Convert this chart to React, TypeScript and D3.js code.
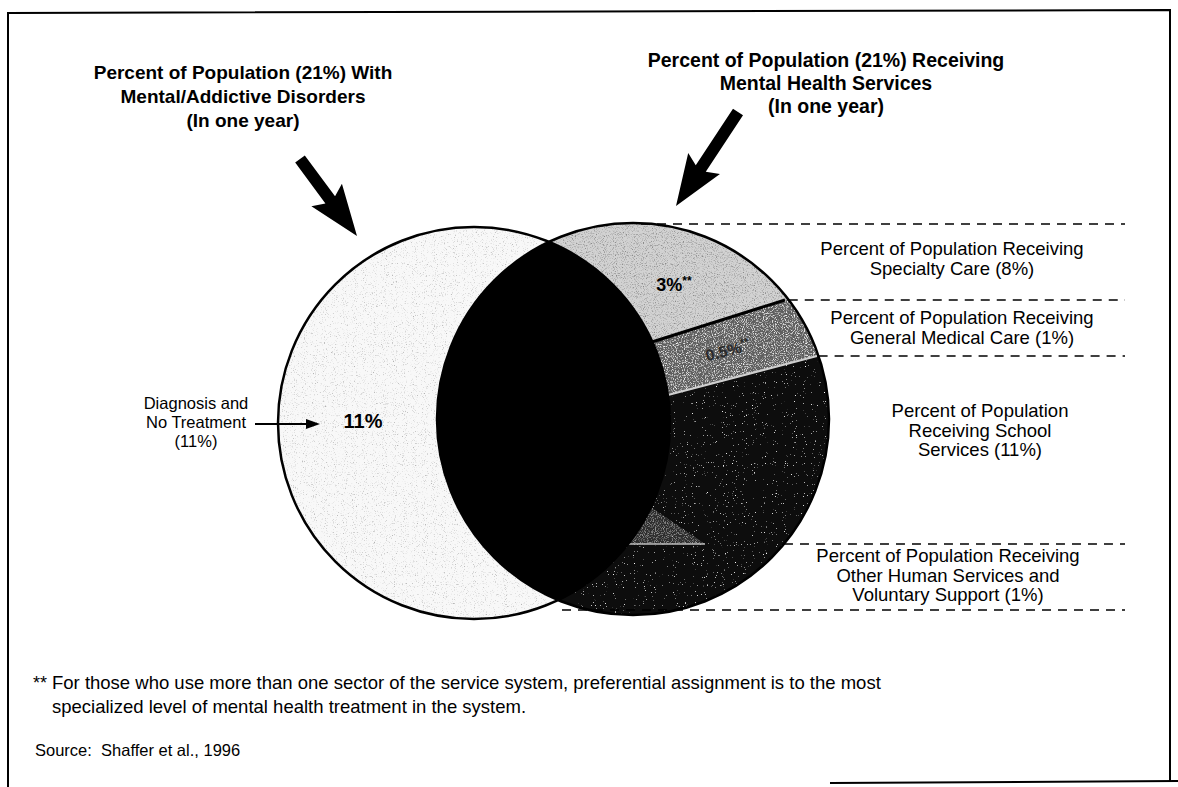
import React from "react";
import * as d3 from "d3";

// ---------- data ----------
const leftTitle = ["Percent of Population (21%) With", "Mental/Addictive Disorders", "(In one year)"];
const rightTitle = ["Percent of Population (21%) Receiving", "Mental Health Services", "(In one year)"];
const populationWithDisorders = 21;
const populationReceivingServices = 21;
const noTreatmentLabel = ["Diagnosis and", "No Treatment", "(11%)"];
const noTreatmentValue = "11%";
const sectorNames = ["Specialty Care", "General Medical Care", "School Services", "Other Human Services and Voluntary Support"];
const sectorPercents = [8, 1, 11, 1];
const sectorLabels = [
  ["Percent of Population Receiving", "Specialty Care (8%)"],
  ["Percent of Population Receiving", "General Medical Care (1%)"],
  ["Percent of Population", "Receiving School", "Services (11%)"],
  ["Percent of Population Receiving", "Other Human Services and", "Voluntary Support (1%)"],
];
const innerShareLabels = ["3%", "0.5%"];
const footnoteLines = [
  "For those who use more than one sector of the service system, preferential assignment is to the most",
  "specialized level of mental health treatment in the system.",
];
const sourceText = "Source:  Shaffer et al., 1996";

const FONT = "'Liberation Sans', Arial, Helvetica, sans-serif";

type P = [number, number];

function circlePath(c: P, r: number) {
  const p = d3.path();
  p.moveTo(c[0] + r, c[1]);
  p.arc(c[0], c[1], r, 0, 2 * Math.PI);
  p.closePath();
  return p.toString();
}

function arrowPoly(S: P, T: P, sw: number, hl: number, hw: number, barb: number): string {
  const dx = T[0] - S[0], dy = T[1] - S[1];
  const L = Math.hypot(dx, dy);
  const u: P = [dx / L, dy / L];
  const n: P = [-u[1], u[0]];
  const b: P = [T[0] - u[0] * hl, T[1] - u[1] * hl];
  const pts: P[] = [
    [S[0] + n[0] * sw / 2, S[1] + n[1] * sw / 2],
    [b[0] + n[0] * sw / 2, b[1] + n[1] * sw / 2],
    [b[0] + n[0] * hw - u[0] * barb, b[1] + n[1] * hw - u[1] * barb],
    T,
    [b[0] - n[0] * hw - u[0] * barb, b[1] - n[1] * hw - u[1] * barb],
    [b[0] - n[0] * sw / 2, b[1] - n[1] * sw / 2],
    [S[0] - n[0] * sw / 2, S[1] - n[1] * sw / 2],
  ];
  return d3.line()(pts)! + "Z";
}

function Lines({ lines, x, y, dy, size, weight = "normal", anchor = "middle" }: any) {
  return (
    <text x={x} y={y} fontSize={size} fontWeight={weight} textAnchor={anchor} fontFamily={FONT} fill="#000">
      {lines.map((l: string, i: number) => (
        <tspan key={i} x={x} y={y + i * dy}>{l}</tspan>
      ))}
    </text>
  );
}

export default function App() {
  const W = 1178, H = 787;
  const rScale = d3.scaleSqrt().domain([0, 21]).range([0, 196]);
  const rL = rScale(populationWithDisorders);
  const rR = rScale(populationReceivingServices);
  const cL: P = [474, 423];
  const cR: P = [633, 419];

  // band divider lines (two points each) inside the right circle
  const dividers: [P, P][] = [
    [[652, 342], [785, 300]],
    [[668, 395], [817, 356]],
    [[629, 544], [783, 544]],
  ];
  const lineY = (d: [P, P], x: number) => {
    const s = (d[1][1] - d[0][1]) / (d[1][0] - d[0][0]);
    return d[0][1] + (x - d[0][0]) * s;
  };
  const x0 = 400, x1 = 880;
  const bandTop = [
    (x: number) => 150,
    (x: number) => lineY(dividers[0], x),
    (x: number) => lineY(dividers[1], x),
    (x: number) => lineY(dividers[2], x),
  ];
  const bandBot = [
    (x: number) => lineY(dividers[0], x),
    (x: number) => lineY(dividers[1], x),
    (x: number) => lineY(dividers[2], x),
    (x: number) => 700,
  ];
  const bandFill = ["#d2d2d2", "#5e5e5e", "#0e0e0e", "#0c0c0c"];
  const bandFilter = ["url(#midSpeckle)", "url(#lightSpeckle)", "url(#sparseLight)", "url(#sparseLight)"];
  const bands = sectorNames.map((name, i) => {
    const pts: P[] = [[x0, bandTop[i](x0)], [x1, bandTop[i](x1)], [x1, bandBot[i](x1)], [x0, bandBot[i](x0)]];
    return { name, pct: sectorPercents[i], d: d3.line()(pts)! + "Z", fill: bandFill[i], filter: bandFilter[i] };
  });

  // dashed leader lines to the right labels
  const dashRight = 1125;
  const edgeX = (y: number) => cR[0] + Math.sqrt(Math.max(0, rR * rR - (y - cR[1]) ** 2));
  const dashYs = [cR[1] - rR + 1, dividers[0][1][1], dividers[1][1][1], dividers[2][1][1], cR[1] + rR - 5];
  const dashStarts = [cR[0] + 8, edgeX(dashYs[1]), edgeX(dashYs[2]), edgeX(dashYs[3]), 562];

  const labelPos = [
    { x: 952, y: 255 },
    { x: 962, y: 324 },
    { x: 980, y: 417 },
    { x: 948, y: 562 },
  ];

  const speckle = (id: string, rgb: number, slope: number, off: number, seed: number, freq = 0.9) => (
    <filter id={id} x="0" y="0" width="100%" height="100%">
      <feTurbulence type="fractalNoise" baseFrequency={freq} numOctaves="2" seed={seed} result="noise" />
      <feColorMatrix in="noise" type="matrix"
        values={`0 0 0 0 ${rgb}  0 0 0 0 ${rgb}  0 0 0 0 ${rgb}  ${slope} 0 0 0 ${off}`} result="dots" />
      <feComposite in="dots" in2="SourceGraphic" operator="in" result="dc" />
      <feMerge><feMergeNode in="SourceGraphic" /><feMergeNode in="dc" /></feMerge>
    </filter>
  );

  return (
    <svg width={W} height={H} style={{ position: "absolute", left: 0, top: 0, background: "#fff" }}>
      <defs>
        <clipPath id="rightClip"><path d={circlePath(cR, rR)} /></clipPath>
        {speckle("faintSpeckle", 0.45, 3.5, -2.05, 4)}
        {speckle("midSpeckle", 0.25, 3.2, -1.6, 7)}
        {speckle("lightSpeckle", 1, 3, -1.5, 9)}
        {speckle("sparseLight", 1, 6, -4.3, 12)}
      </defs>

      {/* frame */}
      <path d="M8,787 L8,13 L1170,10 L1170,782 M830,783 L1178,781" fill="none" stroke="#000" strokeWidth={2} />

      {/* left circle (no treatment) */}
      <path d={circlePath(cL, rL)} fill="#f8f8f8" filter="url(#faintSpeckle)" />

      {/* right circle bands */}
      <g clipPath="url(#rightClip)">
        {bands.map((b) => (
          <path key={b.name} d={b.d} fill={b.fill} filter={b.filter} />
        ))}
        <path d={d3.line()([[630, 544], [705, 544], [652, 508]])! + "Z"} fill="#444" filter="url(#lightSpeckle)" opacity={0.6} />
        <path d={d3.line()([dividers[0][0], dividers[0][1]])!} stroke="#000" strokeWidth={3} />
        <path d={d3.line()([dividers[1][0], dividers[1][1]])!} stroke="#cfcfcf" strokeWidth={2} />
        <path d={d3.line()([dividers[2][0], [705, 544]])!} stroke="#bdbdbd" strokeWidth={1.5} />
        {/* intersection lens */}
        <path d={circlePath(cL, rL)} fill="#000" />
      </g>

      {/* circle outlines */}
      <path d={circlePath(cL, rL)} fill="none" stroke="#000" strokeWidth={2.5} />
      <path d={circlePath(cR, rR)} fill="none" stroke="#000" strokeWidth={2.5} />

      {/* inner labels */}
      <text x={674} y={291} fontFamily={FONT} fontWeight="bold" fontSize={18} textAnchor="middle" fill="#000">
        {innerShareLabels[0]}<tspan fontSize={12} dy={-6}>**</tspan>
      </text>
      <text x={728} y={356} fontFamily={FONT} fontWeight="bold" fontSize={16} textAnchor="middle" fill="#2a2a2a"
        transform="rotate(-14 728 352)">
        {innerShareLabels[1]}<tspan fontSize={11} dy={-6}>**</tspan>
      </text>
      <text x={363} y={428} fontFamily={FONT} fontWeight="bold" fontSize={20} textAnchor="middle" fill="#000">{noTreatmentValue}</text>

      {/* dashed leaders */}
      {dashYs.map((y, i) => (
        <line key={i} x1={dashStarts[i]} x2={dashRight} y1={y} y2={y} stroke="#000" strokeWidth={1.5} strokeDasharray="9,7" />
      ))}

      {/* right labels */}
      {sectorLabels.map((lines, i) => (
        <Lines key={i} lines={lines} x={labelPos[i].x} y={labelPos[i].y} dy={19.5} size={18.5} />
      ))}

      {/* no treatment label and arrow */}
      <Lines lines={noTreatmentLabel} x={196} y={409} dy={19} size={16.5} />
      <line x1={255} y1={424} x2={310} y2={424} stroke="#000" strokeWidth={2} />
      <path d={d3.line()([[320, 424], [306, 419], [306, 429]])! + "Z"} fill="#000" />

      {/* titles */}
      <Lines lines={leftTitle} x={243} y={79} dy={24} size={19} weight="bold" />
      <Lines lines={rightTitle} x={826} y={67} dy={23} size={19.5} weight="bold" />

      {/* big arrows */}
      <path d={arrowPoly([300, 159], [357, 236], 12, 45, 19, 6)} fill="#000" />
      <path d={arrowPoly([738, 112], [676, 206], 12, 45, 19, 6)} fill="#000" />

      {/* footnote */}
      <text x={33} y={689} fontFamily={FONT} fontSize={18} fill="#000">**</text>
      {footnoteLines.map((l, i) => (
        <text key={i} x={52} y={689 + i * 24} fontFamily={FONT} fontSize={18.5} fill="#000">{l}</text>
      ))}
      <text x={35} y={756} fontFamily={FONT} fontSize={16.5} fill="#000" style={{ whiteSpace: "pre" }}>{sourceText}</text>
    </svg>
  );
}
